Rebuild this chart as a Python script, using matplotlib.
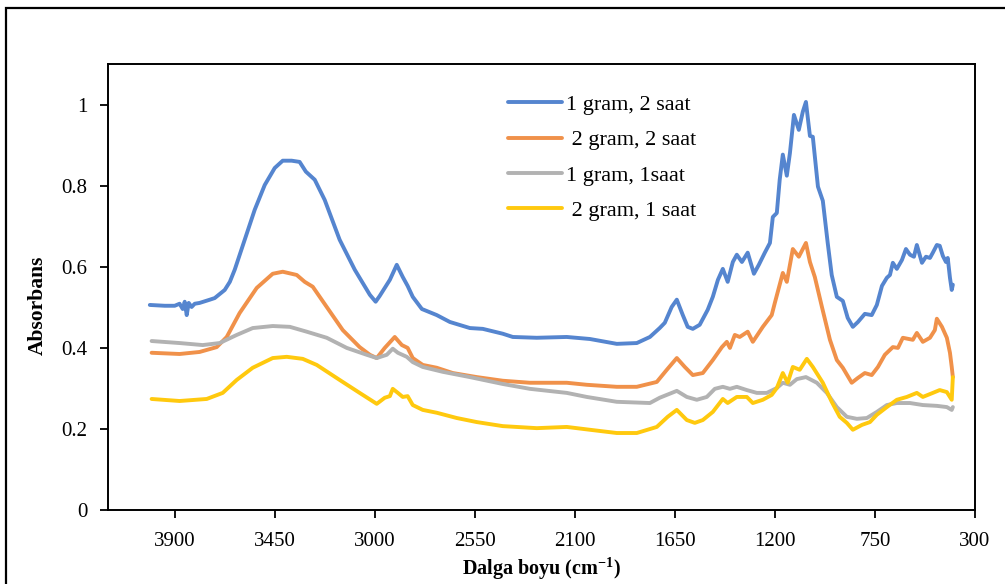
import matplotlib as mpl
import matplotlib.pyplot as plt
from matplotlib.patches import Rectangle

mpl.rcParams['font.family'] = ['Liberation Serif', 'DejaVu Serif']
mpl.rcParams['mathtext.fontset'] = 'custom'
mpl.rcParams['mathtext.rm'] = 'Liberation Serif'
mpl.rcParams['mathtext.bf'] = 'Liberation Serif:bold'

# FTIR spectra (wavenumber in cm-1, absorbance)
wn_1g2h = [4012, 3945, 3900, 3878, 3864, 3855, 3846, 3837, 3824, 3810, 3788,
           3742, 3720, 3675, 3652, 3630, 3585, 3540, 3495, 3450, 3414, 3374,
           3338, 3310, 3270, 3225, 3158, 3090, 3022, 2996, 2978, 2955, 2932,
           2901, 2874, 2852, 2829, 2788, 2721, 2662, 2572, 2514, 2424, 2379,
           2271, 2136, 2032, 1911, 1821, 1762, 1718, 1695, 1664, 1641, 1614,
           1592, 1569, 1538, 1502, 1479, 1456, 1434, 1412, 1389, 1371, 1348,
           1322, 1294, 1272, 1245, 1222, 1209, 1191, 1178, 1164, 1146, 1132,
           1114, 1092, 1074, 1060, 1042, 1029, 1006, 984, 962, 944, 921, 894,
           872, 849, 826, 795, 764, 741, 718, 696, 682, 669, 651, 628, 610,
           592, 574, 561, 538, 520, 502, 489, 471, 458, 444, 430, 422, 412,
           404, 399]
ab_1g2h = [0.506, 0.504, 0.504, 0.509, 0.496, 0.514, 0.481, 0.511, 0.501,
           0.509, 0.511, 0.519, 0.523, 0.543, 0.563, 0.593, 0.667, 0.741,
           0.802, 0.844, 0.862, 0.862, 0.859, 0.835, 0.815, 0.765, 0.667,
           0.593, 0.531, 0.514, 0.528, 0.548, 0.568, 0.605, 0.575, 0.553,
           0.526, 0.496, 0.481, 0.464, 0.449, 0.447, 0.435, 0.427, 0.425,
           0.427, 0.422, 0.410, 0.412, 0.427, 0.449, 0.462, 0.501, 0.519,
           0.481, 0.452, 0.447, 0.457, 0.494, 0.526, 0.568, 0.595, 0.563,
           0.612, 0.630, 0.612, 0.635, 0.583, 0.605, 0.635, 0.659, 0.723,
           0.733, 0.815, 0.877, 0.825, 0.881, 0.975, 0.938, 0.983, 1.007,
           0.923, 0.921, 0.798, 0.763, 0.659, 0.580, 0.526, 0.516, 0.474,
           0.452, 0.464, 0.484, 0.481, 0.506, 0.553, 0.573, 0.580, 0.610,
           0.595, 0.617, 0.644, 0.630, 0.625, 0.654, 0.610, 0.625, 0.622,
           0.635, 0.654, 0.652, 0.627, 0.612, 0.622, 0.573, 0.543, 0.556]

wn_2g2h = [4004, 3878, 3788, 3711, 3666, 3608, 3531, 3459, 3414, 3351, 3315,
           3279, 3216, 3144, 3068, 3022, 2991, 2955, 2910, 2878, 2852, 2829,
           2784, 2721, 2649, 2541, 2424, 2302, 2136, 2046, 1911, 1821, 1731,
           1686, 1641, 1605, 1569, 1524, 1479, 1438, 1416, 1402, 1380, 1358,
           1322, 1299, 1254, 1214, 1200, 1164, 1146, 1119, 1092, 1060, 1042,
           1020, 988, 952, 921, 894, 854, 826, 795, 764, 736, 705, 669, 646,
           624, 579, 561, 534, 502, 480, 471, 448, 426, 412, 404, 399]
ab_2g2h = [0.388, 0.385, 0.390, 0.402, 0.427, 0.486, 0.548, 0.583, 0.588,
           0.580, 0.563, 0.551, 0.501, 0.444, 0.402, 0.383, 0.375, 0.400,
           0.427, 0.407, 0.400, 0.375, 0.358, 0.351, 0.338, 0.328, 0.319,
           0.314, 0.314, 0.309, 0.304, 0.304, 0.316, 0.346, 0.375, 0.353,
           0.333, 0.338, 0.370, 0.402, 0.415, 0.400, 0.432, 0.427, 0.440,
           0.415, 0.452, 0.481, 0.511, 0.585, 0.563, 0.644, 0.625, 0.659,
           0.612, 0.575, 0.501, 0.420, 0.370, 0.351, 0.314, 0.326, 0.338,
           0.333, 0.353, 0.383, 0.402, 0.400, 0.425, 0.420, 0.437, 0.415,
           0.425, 0.444, 0.472, 0.452, 0.425, 0.388, 0.353, 0.328]

wn_1g1h = [4004, 3878, 3774, 3698, 3621, 3549, 3459, 3382, 3306, 3216, 3126,
           3036, 2991, 2946, 2919, 2896, 2856, 2829, 2784, 2694, 2572, 2424,
           2302, 2136, 2046, 1911, 1762, 1718, 1641, 1596, 1551, 1506, 1470,
           1434, 1402, 1371, 1326, 1281, 1236, 1191, 1164, 1132, 1101, 1060,
           1011, 966, 921, 876, 831, 786, 741, 696, 651, 592, 534, 471, 426,
           404, 399]
ab_1g1h = [0.417, 0.412, 0.407, 0.412, 0.432, 0.449, 0.454, 0.452, 0.440,
           0.425, 0.400, 0.383, 0.375, 0.383, 0.398, 0.388, 0.378, 0.365,
           0.353, 0.341, 0.328, 0.311, 0.299, 0.289, 0.279, 0.267, 0.264,
           0.277, 0.294, 0.279, 0.272, 0.279, 0.299, 0.304, 0.299, 0.304,
           0.296, 0.289, 0.289, 0.301, 0.314, 0.309, 0.323, 0.328, 0.314,
           0.289, 0.254, 0.230, 0.225, 0.227, 0.242, 0.259, 0.264, 0.264,
           0.259, 0.257, 0.254, 0.247, 0.254]

wn_2g1h = [4004, 3878, 3756, 3684, 3621, 3549, 3459, 3396, 3324, 3261, 3158,
           3068, 2991, 2955, 2932, 2919, 2896, 2874, 2852, 2829, 2784, 2721,
           2631, 2541, 2424, 2271, 2136, 2032, 1911, 1821, 1731, 1682, 1641,
           1596, 1560, 1524, 1479, 1434, 1412, 1371, 1326, 1299, 1254, 1214,
           1191, 1164, 1142, 1119, 1088, 1056, 1029, 984, 944, 908, 876, 849,
           808, 772, 741, 696, 651, 606, 561, 534, 489, 458, 426, 404, 399]
ab_2g1h = [0.274, 0.269, 0.274, 0.289, 0.321, 0.351, 0.375, 0.378, 0.373,
           0.358, 0.321, 0.289, 0.262, 0.277, 0.281, 0.299, 0.289, 0.279,
           0.281, 0.259, 0.247, 0.240, 0.227, 0.217, 0.207, 0.202, 0.205,
           0.198, 0.190, 0.190, 0.205, 0.230, 0.247, 0.222, 0.215, 0.222,
           0.242, 0.274, 0.264, 0.279, 0.279, 0.264, 0.272, 0.284, 0.301,
           0.338, 0.314, 0.353, 0.346, 0.373, 0.353, 0.314, 0.267, 0.230,
           0.215, 0.198, 0.210, 0.217, 0.235, 0.254, 0.272, 0.279, 0.289,
           0.279, 0.289, 0.296, 0.291, 0.272, 0.328]

labels = ['1 gram, 2 saat', ' 2 gram, 2 saat', '1 gram, 1saat', ' 2 gram, 1 saat']
colors = ['#5585CF', '#F0914A', '#B2B2B2', '#FFC90E']
xticks = [3900, 3450, 3000, 2550, 2100, 1650, 1200, 750, 300]
yticks = [0, 0.2, 0.4, 0.6, 0.8, 1]

fig = plt.figure(figsize=(10.05, 5.84), dpi=100)
ax = fig.add_axes([0.1075, 0.1267, 0.8625, 0.7633])

series = [(wn_1g2h, ab_1g2h), (wn_2g2h, ab_2g2h),
          (wn_1g1h, ab_1g1h), (wn_2g1h, ab_2g1h)]
for (wn, ab), lab, col in zip(series, labels, colors):
    ax.plot(wn, ab, color=col, lw=2.8, label=lab, solid_capstyle='round')

ax.set_xlim(4200, 300)
ax.set_ylim(0, 1.1)
ax.set_xticks(xticks)
ax.set_yticks(yticks)
ax.set_yticklabels(['0', '0.2', '0.4', '0.6', '0.8', '1'])
ax.tick_params(axis='x', direction='out', length=6, width=1.3, pad=10,
               labelsize=15)
ax.tick_params(axis='y', direction='out', length=6, width=1.3, pad=9,
               labelsize=15)
for sp in ax.spines.values():
    sp.set_linewidth(1.4)

ax.set_xlabel(r'Dalga boyu (cm$^{\mathbf{-1}}$)', fontsize=14.5,
              fontweight='bold', labelpad=3)
ax.set_ylabel('Absorbans', fontsize=15.5, fontweight='bold')
ax.yaxis.set_label_coords(-0.069, 0.46)

fig.legend(loc='upper left', bbox_to_anchor=(0.5055, 0.838), frameon=False,
           fontsize=16, handlelength=2.43, handletextpad=0.2,
           labelspacing=0.66, borderpad=0, borderaxespad=0)

# outer chart frame
fig.add_artist(Rectangle((6 / 1005, -0.1), 1.2, 1.1 - 8 / 584,
                         transform=fig.transFigure, fill=False,
                         edgecolor='black', lw=1.6))

fig.savefig('out.png', dpi=100)
